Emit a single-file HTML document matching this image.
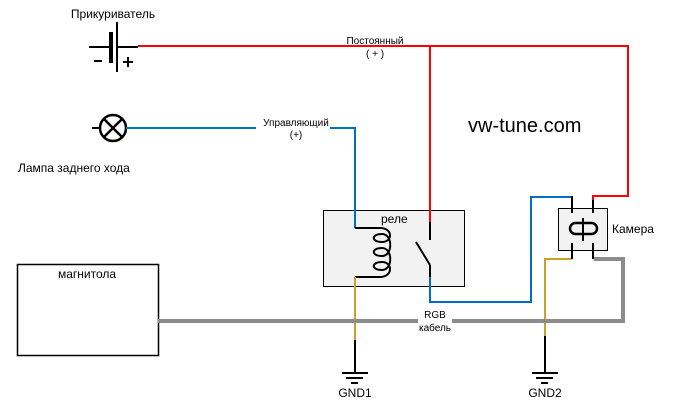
<!DOCTYPE html>
<html><head><meta charset="utf-8"><style>
body{margin:0;background:#fff}
svg text{font-family:"Liberation Sans","DejaVu Sans",sans-serif;fill:#000}
</style></head><body>
<svg width="684" height="415" viewBox="0 0 684 415" xmlns="http://www.w3.org/2000/svg">
<rect width="684" height="415" fill="#fff"/>
<rect x="323.5" y="210.5" width="141" height="76" fill="#f2f2f2" stroke="#000"/>
<rect x="17.5" y="264.5" width="141" height="91" fill="#fff" stroke="#000" stroke-width="1.5"/>
<rect x="558.5" y="208.5" width="49" height="42" fill="#f2f2f2" stroke="#000"/>
<line x1="89" y1="47" x2="111" y2="47" stroke="#000" stroke-width="2"/>
<line x1="111" y1="32" x2="111" y2="63" stroke="#000" stroke-width="4"/>
<line x1="117" y1="22" x2="117" y2="72" stroke="#000" stroke-width="2"/>
<line x1="117" y1="47" x2="138" y2="47" stroke="#000" stroke-width="2"/>
<line x1="94" y1="61" x2="102" y2="61" stroke="#000" stroke-width="2"/>
<line x1="123" y1="62" x2="133" y2="62" stroke="#000" stroke-width="2"/>
<line x1="128" y1="57" x2="128" y2="67" stroke="#000" stroke-width="2"/>
<polyline points="138,46 628,46 628,196 593,196 593,200" fill="none" stroke="#f00" stroke-width="2"/>
<line x1="430" y1="46" x2="430" y2="222" stroke="#f00" stroke-width="2"/>
<line x1="430" y1="222" x2="430" y2="240" stroke="#000" stroke-width="2"/>
<line x1="416" y1="242" x2="430" y2="265" stroke="#000" stroke-width="2"/>
<line x1="430" y1="265" x2="430" y2="277" stroke="#000" stroke-width="2"/>
<line x1="92" y1="128" x2="100" y2="128" stroke="#000" stroke-width="2"/>
<circle cx="113" cy="128" r="13" fill="none" stroke="#000" stroke-width="2.5"/>
<line x1="104" y1="119" x2="122" y2="137" stroke="#000" stroke-width="2.5"/>
<line x1="122" y1="119" x2="104" y2="137" stroke="#000" stroke-width="2.5"/>
<polyline points="126,128 256,128" fill="none" stroke="#0070c0" stroke-width="2"/>
<polyline points="330,128 355,128 355,228" fill="none" stroke="#0070c0" stroke-width="2"/>
<polyline points="430,277 430,302 531,302 531,197 572,197" fill="none" stroke="#0070c0" stroke-width="2"/>
<polyline points="355,228 380,228" fill="none" stroke="#000" stroke-width="2"/>
<polyline points="355,277 380,277" fill="none" stroke="#000" stroke-width="2"/>
<path d="M380,228 C393,228 393,242 382,242 C371,242 371,234 382,234 C393,234 393,256 382,256 C371,256 371,248 382,248 C393,248 393,270 382,270 C371,270 371,262 382,262 C393,262 393,277 380,277" fill="none" stroke="#000" stroke-width="2"/>
<line x1="355" y1="277" x2="355" y2="340" stroke="#c9a227" stroke-width="2"/>
<polyline points="572,259 545,259 545,336" fill="none" stroke="#c9a227" stroke-width="2"/>
<line x1="158" y1="321" x2="418" y2="321" stroke="#8c8c8c" stroke-width="4"/>
<polyline points="452,321 623,321 623,259 594,259" fill="none" stroke="#8c8c8c" stroke-width="4"/>
<line x1="572" y1="196" x2="572" y2="213" stroke="#000" stroke-width="2"/>
<line x1="593" y1="200" x2="593" y2="213" stroke="#000" stroke-width="2"/>
<line x1="572" y1="243" x2="572" y2="259" stroke="#000" stroke-width="2"/>
<line x1="593" y1="243" x2="593" y2="259" stroke="#000" stroke-width="2"/>
<rect x="570" y="223" width="27" height="11" rx="5.5" fill="none" stroke="#000" stroke-width="2.5"/>
<line x1="583" y1="218" x2="583" y2="241" stroke="#000" stroke-width="2"/>
<line x1="355" y1="340" x2="355" y2="372" stroke="#000" stroke-width="2"/>
<line x1="342" y1="373" x2="368" y2="373" stroke="#000" stroke-width="2"/>
<line x1="346" y1="378" x2="363" y2="378" stroke="#000" stroke-width="2"/>
<line x1="351" y1="383" x2="358" y2="383" stroke="#000" stroke-width="2"/>
<line x1="545" y1="336" x2="545" y2="372" stroke="#000" stroke-width="2"/>
<line x1="532" y1="373" x2="558" y2="373" stroke="#000" stroke-width="2"/>
<line x1="536" y1="378" x2="553" y2="378" stroke="#000" stroke-width="2"/>
<line x1="541" y1="383" x2="548" y2="383" stroke="#000" stroke-width="2"/>
<text x="113" y="18" font-size="12" text-anchor="middle">Прикуриватель</text>
<text x="18" y="172" font-size="12">Лампа заднего хода</text>
<text x="375" y="44" font-size="10" text-anchor="middle">Постоянный</text>
<text x="375" y="57" font-size="10" text-anchor="middle">( + )</text>
<text x="296" y="126" font-size="10" text-anchor="middle">Управляющий</text>
<text x="296" y="138" font-size="10" text-anchor="middle">(+)</text>
<text x="468" y="132" font-size="20">vw-tune.com</text>
<text x="381" y="223" font-size="12">реле</text>
<text x="612" y="233" font-size="12">Камера</text>
<text x="87" y="278" font-size="12" text-anchor="middle">магнитола</text>
<text x="435" y="318" font-size="10" text-anchor="middle">RGB</text>
<text x="435" y="331" font-size="10" text-anchor="middle">кабель</text>
<text x="355" y="397" font-size="12" text-anchor="middle">GND1</text>
<text x="545" y="397" font-size="12" text-anchor="middle">GND2</text>
</svg>
</body></html>
